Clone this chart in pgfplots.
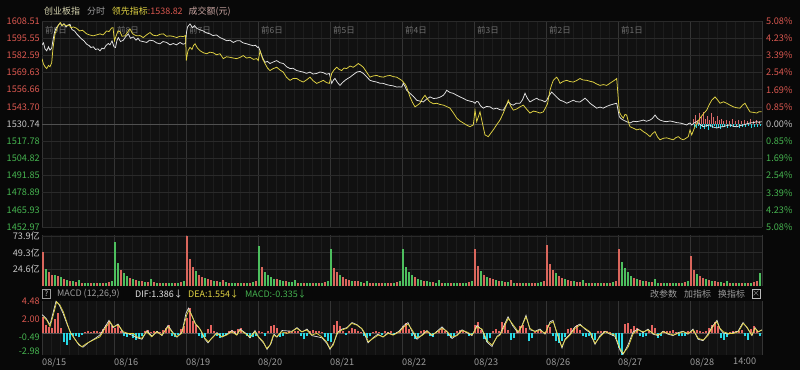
\documentclass[border=0pt]{standalone}
\usepackage{fontspec}
\setmainfont{Noto Sans CJK SC}
\usepackage{pgfplots}
\usepackage{pgfplotstable}
\pgfplotsset{compat=1.18}

\definecolor{bgc}{HTML}{080808}
\definecolor{panelc}{HTML}{111111}
\definecolor{gridday}{HTML}{343434}
\definecolor{gridmin}{HTML}{1D1D1D}
\definecolor{gridh}{HTML}{2A2A2A}
\definecolor{zeroc}{HTML}{505050}
\definecolor{labred}{HTML}{D9574F}
\definecolor{labgreen}{HTML}{45B24F}
\definecolor{labgray}{HTML}{C4C4C4}
\definecolor{txtgray}{HTML}{9C9C9C}
\definecolor{daygray}{HTML}{6E6E6E}
\definecolor{whitec}{HTML}{E4E4E4}
\definecolor{yelc}{HTML}{E2D443}
\definecolor{volred}{HTML}{D9665C}
\definecolor{volgreen}{HTML}{4DBF5E}
\definecolor{histred}{HTML}{E5645E}
\definecolor{ovred}{HTML}{D86A6A}
\definecolor{histcyan}{HTML}{26D9E6}
\definecolor{hdr1}{HTML}{D8D6B0}
\definecolor{hdr3}{HTML}{C8A4A0}

\pgfplotsset{
  panelbase/.style={
    scale only axis, width=720bp, xmin=0, xmax=720, anchor=south west,
    axis line style={draw=none},
    major tick length=0pt, minor tick length=0pt,
    tick style={draw=none},
    ticklabel style={font=\fontsize{9.2}{10}\selectfont, inner sep=1bp},
    yticklabel style={xshift=-1bp},
    xtick={0,72,...,720}, minor x tick num=7,
    xmajorgrids, xminorgrids,
    major x grid style={draw=gridday, line width=0.6bp},
    minor x grid style={draw=gridmin, line width=0.5bp},
    major y grid style={draw=gridh, line width=0.6bp},
    xticklabels={},
    axis background/.style={fill=panelc},
  },
  overlaybase/.style={
    scale only axis, width=720bp, xmin=0, xmax=720, anchor=south west,
    axis line style={draw=none}, major tick length=0pt, minor tick length=0pt,
    tick style={draw=none}, xtick=\empty,
    ticklabel style={font=\fontsize{9.2}{10}\selectfont, inner sep=1bp},
  }
}

\pgfplotstableread[row sep=\\]{
x r g\\
1 50.5 0\\ 4 0 25\\ 7 20 0\\ 10 16 0\\ 13 0 17\\ 16 15 0\\ 19 0 14\\ 22 11 0\\ 25 0 9\\ 28 8 0\\ 31 0 7\\ 34 6 0\\
37 0 9\\ 40 5 0\\ 43 0 5\\ 46 0 4\\ 49 4 0\\ 52 0 4\\ 55 5 0\\ 58 0 4\\ 61 5 0\\ 64 0 5\\ 67 6 0\\ 70 0 7\\
73 0 65.3\\ 76 0 34\\ 79 24 0\\ 82 0 19\\ 85 0 15\\ 88 12 0\\ 91 0 10\\ 94 9 0\\ 97 0 8\\ 100 7 0\\ 103 0 6\\ 106 6 0\\
109 0 10\\ 112 6 0\\ 115 0 5\\ 118 5 0\\ 121 0 4\\ 124 5 0\\ 127 0 4\\ 130 0 5\\ 133 4 0\\ 136 0 5\\ 139 6 0\\ 142 0 8\\
145 73.9 0\\ 148 40 0\\ 151 28 0\\ 154 0 22\\ 157 17 0\\ 160 14 0\\ 163 0 12\\ 166 10 0\\ 169 9 0\\ 172 0 8\\ 175 7 0\\ 178 0 6\\
181 9 0\\ 184 0 6\\ 187 5 0\\ 190 0 5\\ 193 0 5\\ 196 4 0\\ 199 0 5\\ 202 4 0\\ 205 0 5\\ 208 5 0\\ 211 0 6\\ 214 7 0\\
217 0 58.9\\ 220 28 0\\ 223 0 20\\ 226 0 16\\ 229 0 13\\ 232 0 11\\ 235 10 0\\ 238 0 9\\ 241 0 8\\ 244 7 0\\ 247 0 6\\ 250 0 6\\
253 0 9\\ 256 5 0\\ 259 0 5\\ 262 4 0\\ 265 0 5\\ 268 0 4\\ 271 5 0\\ 274 0 4\\ 277 5 0\\ 280 0 5\\ 283 6 0\\ 286 0 7\\
289 0 54.1\\ 292 27 0\\ 295 20 0\\ 298 0 16\\ 301 13 0\\ 304 11 0\\ 307 9 0\\ 310 0 8\\ 313 7 0\\ 316 7 0\\ 319 0 6\\ 322 5 0\\
325 0 8\\ 328 5 0\\ 331 5 0\\ 334 0 4\\ 337 5 0\\ 340 4 0\\ 343 0 5\\ 346 4 0\\ 349 5 0\\ 352 0 5\\ 355 6 0\\ 358 0 8\\
361 0 54.1\\ 364 0 28\\ 367 0 21\\ 370 0 16\\ 373 13 0\\ 376 0 11\\ 379 0 9\\ 382 8 0\\ 385 0 7\\ 388 0 6\\ 391 6 0\\ 394 0 5\\
397 0 9\\ 400 5 0\\ 403 0 5\\ 406 0 4\\ 409 5 0\\ 412 0 4\\ 415 0 5\\ 418 4 0\\ 421 0 5\\ 424 0 5\\ 427 6 0\\ 430 0 7\\
433 54.1 0\\ 436 30 0\\ 439 0 22\\ 442 17 0\\ 445 0 14\\ 448 12 0\\ 451 10 0\\ 454 0 9\\ 457 8 0\\ 460 0 7\\ 463 6 0\\ 466 0 6\\
469 9 0\\ 472 0 5\\ 475 5 0\\ 478 4 0\\ 481 0 5\\ 484 4 0\\ 487 0 5\\ 490 4 0\\ 493 5 0\\ 496 0 5\\ 499 0 6\\ 502 7 0\\
505 60.4 0\\ 508 32 0\\ 511 24 0\\ 514 0 19\\ 517 15 0\\ 520 12 0\\ 523 0 10\\ 526 9 0\\ 529 8 0\\ 532 0 7\\ 535 6 0\\ 538 6 0\\
541 0 9\\ 544 5 0\\ 547 0 5\\ 550 5 0\\ 553 0 4\\ 556 5 0\\ 559 0 4\\ 562 5 0\\ 565 0 4\\ 568 5 0\\ 571 0 6\\ 574 7 0\\
577 54.1 0\\ 580 0 36\\ 583 0 27\\ 586 0 20\\ 589 0 15\\ 592 12 0\\ 595 0 10\\ 598 9 0\\ 601 0 8\\ 604 7 0\\ 607 0 6\\ 610 6 0\\
613 0 10\\ 616 0 5\\ 619 5 0\\ 622 0 4\\ 625 0 5\\ 628 4 0\\ 631 0 5\\ 634 0 4\\ 637 5 0\\ 640 0 5\\ 643 6 0\\ 646 0 7\\
649 44.2 0\\ 652 24 0\\ 655 0 18\\ 658 15 0\\ 661 12 0\\ 664 0 10\\ 667 9 0\\ 670 0 8\\ 673 7 0\\ 676 6 0\\ 679 0 6\\ 682 5 0\\
685 0 8\\ 688 5 0\\ 691 0 5\\ 694 4 0\\ 697 0 5\\ 700 4 0\\ 703 0 5\\ 706 5 0\\ 709 0 5\\ 712 6 0\\ 715 8 0\\ 718 0 19\\
}\voltab

\pgfplotstableread[row sep=\\]{
x h\\
1 2.3\\ 4 1.2\\ 7 0.9\\ 10 0.8\\ 13 2.0\\ 16 2.8\\ 19 0.8\\ 22 -1.2\\ 25 -1.6\\ 28 -0.9\\ 31 -0.4\\ 34 -0.3\\
37 -0.5\\ 40 -0.2\\ 43 0.2\\ 46 0.3\\ 49 0.2\\ 52 0.3\\ 55 0.4\\ 58 0.2\\ 61 0.6\\ 64 1.2\\ 67 1.7\\ 70 1.0\\
73 0.8\\ 76 1.1\\ 79 0.4\\ 82 -0.3\\ 85 -0.5\\ 88 -0.2\\ 91 -0.6\\ 94 -0.9\\ 97 -0.7\\ 100 -0.3\\ 103 0.3\\ 106 0.5\\
109 0.2\\ 112 0.4\\ 115 0.3\\ 118 0.2\\ 121 0.5\\ 124 0.8\\ 127 1.2\\ 130 -0.3\\ 133 -0.5\\ 136 -0.2\\ 139 0.6\\ 142 1.0\\
145 2.2\\ 148 3.5\\ 151 1.7\\ 154 1.2\\ 157 -0.3\\ 160 -0.7\\ 163 -0.5\\ 166 0.6\\ 169 1.2\\ 172 0.3\\ 175 -0.4\\ 178 -0.6\\
181 -0.4\\ 184 -0.2\\ 187 0.3\\ 190 0.5\\ 193 0.3\\ 196 0.6\\ 199 0.7\\ 202 0.2\\ 205 -0.4\\ 208 -0.6\\ 211 -0.5\\ 214 -0.3\\
217 0.3\\ 220 0.2\\ 223 -0.3\\ 226 0.4\\ 229 1.0\\ 232 1.2\\ 235 0.8\\ 238 -0.5\\ 241 -0.3\\ 244 0.2\\ 247 0.3\\ 250 0.2\\
253 0.4\\ 256 0.3\\ 259 -0.4\\ 262 -0.8\\ 265 -0.3\\ 268 0.3\\ 271 0.5\\ 274 0.3\\ 277 0.4\\ 280 0.2\\ 283 -0.5\\ 286 -1.0\\
289 -1.2\\ 292 1.2\\ 295 1.7\\ 298 1.0\\ 301 0.3\\ 304 -0.2\\ 307 0.4\\ 310 0.7\\ 313 0.6\\ 316 0.4\\ 319 0.2\\ 322 -0.4\\
325 -0.6\\ 328 -0.3\\ 331 0.2\\ 334 0.3\\ 337 0.2\\ 340 -0.2\\ 343 0.3\\ 346 0.2\\ 349 0.3\\ 352 -0.2\\ 355 0.2\\ 358 0.3\\
361 1.0\\ 364 1.4\\ 367 0.6\\ 370 -0.4\\ 373 -0.8\\ 376 -0.5\\ 379 0.3\\ 382 0.5\\ 385 0.3\\ 388 -0.3\\ 391 -0.5\\ 394 0.2\\
397 0.4\\ 400 0.6\\ 403 0.3\\ 406 -0.3\\ 409 -0.6\\ 412 -0.4\\ 415 0.3\\ 418 0.5\\ 421 0.3\\ 424 0.2\\ 427 -0.3\\ 430 -0.2\\
433 1.2\\ 436 1.6\\ 439 0.5\\ 442 -0.8\\ 445 -1.2\\ 448 -0.7\\ 451 0.3\\ 454 0.6\\ 457 0.4\\ 460 1.6\\ 463 1.4\\ 466 0.5\\
469 -0.9\\ 472 -0.7\\ 475 0.3\\ 478 1.0\\ 481 1.2\\ 484 0.8\\ 487 -1.1\\ 490 -0.6\\ 493 0.2\\ 496 0.4\\ 499 0.3\\ 502 0.2\\
505 1.2\\ 508 0.9\\ 511 -0.4\\ 514 -1.1\\ 517 -1.3\\ 520 -1.0\\ 523 -0.5\\ 526 0.6\\ 529 0.8\\ 532 0.7\\ 535 1.2\\ 538 0.5\\
541 -0.3\\ 544 -0.5\\ 547 -0.4\\ 550 -0.6\\ 553 -0.9\\ 556 0.3\\ 559 0.4\\ 562 0.3\\ 565 0.4\\ 568 0.2\\ 571 -0.3\\ 574 -0.8\\
577 -2.0\\ 580 -3.0\\ 583 1.3\\ 586 1.5\\ 589 0.6\\ 592 1.0\\ 595 0.8\\ 598 -0.3\\ 601 -0.5\\ 604 -0.3\\ 607 0.4\\ 610 1.2\\
613 0.7\\ 616 -0.7\\ 619 -0.3\\ 622 0.3\\ 625 0.4\\ 628 0.3\\ 631 0.5\\ 634 0.2\\ 637 -0.3\\ 640 -0.4\\ 643 -0.3\\ 646 0.3\\
649 0.2\\ 652 0.3\\ 655 0.5\\ 658 0.3\\ 661 0.2\\ 664 0.4\\ 667 0.8\\ 670 1.2\\ 673 1.6\\ 676 1.0\\ 679 -0.6\\ 682 -0.9\\
685 -0.5\\ 688 0.2\\ 691 0.3\\ 694 0.4\\ 697 0.3\\ 700 0.5\\ 703 -0.4\\ 706 -0.9\\ 709 0.6\\ 712 1.0\\ 715 0.4\\ 718 -0.4\\
}\macdtab

\begin{document}
\begin{tikzpicture}[x=1bp,y=1bp]
\fill[bgc] (0,0) rectangle (800,370);

% ---------- main panel: background, grid, left labels
\begin{axis}[panelbase, at={(42bp,143bp)}, height=206bp,
  ymin=1452.97, ymax=1608.51,
  ytick={1452.97,1465.93,1478.89,1491.85,1504.82,1517.78,1530.74,1543.70,1556.66,1569.63,1582.59,1595.55,1608.51},
  yticklabels={\textcolor{labgreen}{1452.97},\textcolor{labgreen}{1465.93},\textcolor{labgreen}{1478.89},\textcolor{labgreen}{1491.85},\textcolor{labgreen}{1504.82},\textcolor{labgreen}{1517.78},\textcolor{labgray}{1530.74},\textcolor{labred}{1543.70},\textcolor{labred}{1556.66},\textcolor{labred}{1569.63},\textcolor{labred}{1582.59},\textcolor{labred}{1595.55},\textcolor{labred}{1608.51}},
  ymajorgrids]
\addplot[draw=none] coordinates {(0,1530.74)};
\draw[zeroc, line width=0.7bp] (axis cs:0,1530.74) -- (axis cs:720,1530.74);
\end{axis}

% day labels
\begin{scope}[every node/.style={anchor=west, inner sep=0pt, text=daygray, font=\fontsize{8.5}{9}\selectfont}]
\node at (45,340) {前9日};
\node at (117,340) {前8日};
\node at (189,340) {前7日};
\node at (261,340) {前6日};
\node at (333,340) {前5日};
\node at (405,340) {前4日};
\node at (477,340) {前3日};
\node at (549,340) {前2日};
\node at (621,340) {前1日};
\end{scope}

% ---------- today's bars around the zero line (relative to 1530.74)
\begin{axis}[overlaybase, hide axis, at={(42bp,143bp)}, height=206bp, ymin=-77.77, ymax=77.77]
\addplot[ycomb, draw=ovred, line width=0.9bp] coordinates {
(651,4)(653,7)(655,3)(657,8)(659,5)(661,9)(663,4)(665,6)(667,3)(669,8)(671,5)(673,2)(675,6)(677,3)(679,4)(681,2)
(684,3)(687,2)(690,4)(693,2)(696,3)(699,2)(702,3)(705,2)(708,4)(711,2)(714,3)(717,2)};
\addplot[ycomb, draw=histcyan, line width=0.9bp] coordinates {
(652,-2)(654,-3)(656,-1.5)(658,-4)(660,-2.5)(662,-3.5)(664,-2)(666,-4.5)(668,-2)(670,-3)(672,-1.5)(674,-3)(676,-2)(678,-3.5)
(680,-2)(682,-2.5)(685,-3)(688,-2)(691,-2.5)(694,-1.5)(697,-3)(700,-2)(703,-2.5)(706,-1.5)(709,-3)(712,-2)(715,-2.5)(718,-1.5)};
\end{axis}

% ---------- main lines + right labels
\begin{axis}[overlaybase, at={(42bp,143bp)}, height=206bp,
  ymin=1452.97, ymax=1608.51, yticklabel pos=right,
  yticklabel style={anchor=west, xshift=3bp},
  ytick={1452.97,1465.93,1478.89,1491.85,1504.82,1517.78,1530.74,1543.70,1556.66,1569.63,1582.59,1595.55,1608.51},
  yticklabels={\textcolor{labgreen}{5.08\%},\textcolor{labgreen}{4.23\%},\textcolor{labgreen}{3.39\%},\textcolor{labgreen}{2.54\%},\textcolor{labgreen}{1.69\%},\textcolor{labgreen}{0.85\%},\textcolor{labgray}{0.00\%},\textcolor{labred}{0.85\%},\textcolor{labred}{1.69\%},\textcolor{labred}{2.54\%},\textcolor{labred}{3.39\%},\textcolor{labred}{4.23\%},\textcolor{labred}{5.08\%}}]
% white: index
\addplot[whitec, line width=0.75bp] coordinates {
(0,1590.5)(1.5,1592)(3,1587.5)(4.7,1586)(6.5,1589)(8,1586.5)(9.7,1588)(11,1594)(12.5,1600)(14,1603)(16,1605)(18,1607)(20,1605)(22,1606.5)(24,1604)(26,1605.5)(28,1606)(30,1602)(32.5,1601)(35,1598.5)(37,1597)(39.5,1595)(42,1593.5)(44.7,1591)(47,1590)(49,1588.5)(51.3,1589)(53.5,1587)(56,1587.5)(58,1586)(60,1588)(62,1587.5)(64,1590)(66.3,1591.5)(68,1590.5)(70,1593.5)
(72,1589)(73.5,1588.5)(75,1594)(76.3,1596)(78.5,1593)(81.3,1594)(83.5,1596.5)(86.3,1598.8)(88.5,1595.5)(91.3,1596.5)(94,1594)(96,1595.5)(98,1593.5)(101,1593)(104.7,1592.3)(107.5,1594)(111.3,1593.6)(114.5,1592)(118,1591.3)(121,1593)(124.7,1592.3)(128,1590.5)(131.3,1591.5)(134.5,1590.5)(138,1592.3)(141,1591)(143.5,1591.5)
(144.5,1600)(145.5,1604)(148,1606.3)(150.5,1603.5)(152.5,1605)(154.7,1603)(157.5,1602)(161.3,1601)(164.5,1599.5)(168,1598.8)(171,1597.5)(174.5,1598)(178,1596)(181,1595)(184.7,1593.6)(188,1594)(191.3,1592.3)(194.5,1593.5)(198,1593.6)(201,1592)(204.7,1591.3)(208,1590.5)(211.3,1589.8)(213.5,1590.2)(215.5,1588.6)
(216.5,1589)(218,1586.1)(220.5,1581)(223,1577.3)(225.5,1578)(228,1576.4)(231,1577.5)(234.7,1578.6)(238,1577)(241.3,1576.4)(244.5,1574)(248,1572.6)(251,1572.8)(254.7,1571.1)(258,1570.5)(261.3,1569.9)(264.5,1569)(268,1569.9)(271,1568.5)(274.7,1568.9)(278,1570)(281.3,1569.5)(284.5,1568.3)(287.3,1568.9)
(289.7,1561.4)(291.5,1564)(293,1565.1)(295.5,1562)(298,1559.9)(300.5,1562)(303,1563.7)(305.5,1565)(308,1566.1)(311.3,1568)(314.7,1569.9)(318,1570.5)(321.3,1568.9)(324.5,1566.5)(328,1563.7)(331,1563)(334.7,1562.4)(338,1561.5)(341.3,1561.4)(344.5,1560.5)(348,1559.9)(351.3,1559.5)(354.7,1558.6)(357,1558.8)(359.7,1558.6)
(361.3,1561.4)(363,1559)(364.7,1556.2)(366.5,1555)(368,1553.9)(371.5,1551.5)(374.7,1548.7)(378,1548)(381.3,1547.4)(384.5,1549.5)(388,1551.2)(391.5,1550)(394.7,1550.2)(398,1551)(401.3,1552.4)(403,1554)(404.7,1556.2)(408,1554.5)(411.3,1553.9)(414.5,1552.5)(418,1551.2)(421.5,1550)(424.7,1548.7)(428,1548)(431.3,1547.4)
(433,1546.4)(434.7,1547.8)(436.3,1547.4)(438.5,1544.5)(441.3,1542.7)(444.5,1544)(448,1543.7)(451.3,1542)(454.7,1542.7)(458,1541.5)(461.3,1541.2)(463.5,1544)(466.3,1547.4)(469,1545.5)(471.3,1545)(474.5,1546.5)(478,1546.4)(480.5,1549)(483,1553.9)(485.5,1550)(488,1547.4)(491.5,1549)(494.7,1550.2)(497,1549)(499.7,1548.7)(503,1547.4)
(504.7,1548.7)(507,1552)(509.7,1554.9)(511.5,1553.5)(513,1552.4)(515.5,1550.5)(518,1548.7)(521.5,1547.8)(524.7,1546.4)(528,1547.5)(531.3,1548.7)(534.5,1547.5)(538,1547.4)(541,1549)(543,1550.2)(545.5,1548.5)(548,1546.4)(551.5,1544.5)(554.7,1542.7)(558,1543.5)(561.3,1542.7)(564.5,1544)(568,1545)(571.5,1545.8)(574.7,1546.4)
(577.3,1536.2)(579.5,1534.5)(581.3,1533.7)(584.5,1532.5)(588,1531.5)(591.5,1532.8)(594.7,1532.5)(598,1533)(601.3,1533.7)(604.5,1532.8)(608,1533.7)(610.5,1535)(613,1537.5)(615.5,1535)(618,1533.7)(621.5,1532.8)(624.7,1532.5)(628,1533)(631.3,1532.5)(634.5,1531.8)(638,1531.5)(641.5,1530.8)(644.7,1530)(646.5,1531)(648,1531.5)
(649.7,1530)(652,1531.5)(654.7,1532.5)(658,1530.5)(661.3,1528.7)(664.5,1529.5)(668,1530)(671,1528.5)(674.7,1527.7)(678,1528.5)(681.3,1528.7)(684.5,1529.5)(688,1530)(691.3,1529)(694.7,1528.7)(698,1529.5)(701.3,1530)(704.5,1530.8)(708,1531.5)(711.5,1531.8)(714.7,1532.5)(717,1532)(719.7,1532.5)};
% yellow: leading indicator
\addplot[yelc, line width=0.75bp] coordinates {
(0,1580)(1.5,1576)(3,1574)(4.7,1572.6)(6.5,1575)(8,1574)(9.7,1577)(11,1588)(13,1598.8)(15,1603)(17,1606)(18.5,1607.3)(20,1605)(22,1606)(24.7,1604.8)(27,1605.5)(29,1603.5)(31.5,1604)(34.7,1603)(37.5,1601)(40.5,1601.5)(44.7,1598.8)(47.5,1598)(51.3,1597.3)(54.5,1598)(58,1598.8)(61,1598)(64.7,1601)(67,1600.5)(69.7,1603.3)(71,1603.5)
(72.5,1593.6)(74,1597)(76,1601)(78,1600.5)(80,1597)(83,1597.3)(85.5,1600)(88,1602.5)(90.5,1599)(92.5,1598)(94.7,1597.3)(98,1597.5)(101.3,1596)(104.5,1598)(108,1599.8)(111,1597.8)(114.7,1597.3)(118,1598.5)(121.3,1598.8)(124.5,1597)(128,1597.3)(131.5,1596.8)(134.7,1596)(138,1597)(141.3,1596.8)(143.5,1597.5)
(144.3,1578.6)(145.2,1583)(146,1586.1)(148,1588.6)(150,1587)(151.5,1590)(153,1591.3)(155.5,1588)(158,1586.1)(161.5,1584.5)(164.7,1583.8)(168,1585)(171.3,1584.5)(174.5,1583)(178,1583.8)(181.3,1580.1)(184.5,1581.5)(188,1581.1)(191.5,1580.5)(194.7,1580.1)(198,1581)(201.3,1582.4)(204.5,1580.5)(208,1581.1)(211.5,1579.5)(214.7,1580.1)
(216.3,1578.6)(218,1586.1)(220.5,1580)(223,1576.4)(225.5,1573)(228,1571.1)(231,1572.5)(234.7,1573.6)(238,1571.5)(241.3,1569.9)(244.5,1566)(248,1563.7)(251,1565)(254.7,1565.1)(258,1563.5)(261.3,1562.4)(264.5,1564)(268,1566.1)(271,1563.5)(274.7,1561.4)(278,1562.5)(281.3,1563.7)(284.5,1562)(287.3,1561.4)
(289.7,1568.9)(292,1571.5)(294.7,1573.6)(297,1572)(299.7,1571.1)(302,1573)(304.7,1572.6)(308,1574.5)(311.3,1573.6)(314,1575)(316.3,1576.4)(319,1575)(321.3,1573.6)(324.5,1570)(328,1566.1)(331,1567)(334.7,1567.4)(338,1566.5)(341.3,1566.1)(344.5,1567)(348,1567.4)(351.3,1566.5)(354.7,1566.1)(357,1565)(359.7,1563.7)
(361.3,1562.4)(363,1561)(364.7,1558.6)(366.5,1554.5)(368,1551.2)(370.5,1547)(373,1543.7)(375.5,1545)(378,1546.4)(380.5,1550)(383,1552.4)(385.5,1549.5)(388,1547.4)(391.5,1546)(394.7,1546.4)(398,1545.5)(401.3,1545)(404.5,1544)(408,1542.7)(411.5,1539)(414.7,1535.2)(418,1533)(421.3,1531.5)(424.5,1530)(428,1528.7)(431.3,1530)
(433,1541.2)(434.7,1532.5)(436.3,1536)(438,1539.9)(440.5,1531)(443,1522.5)(446.3,1521.2)(449,1524)(451.3,1526.3)(454.5,1530)(458,1533.7)(461.3,1539)(464,1544)(466.3,1548.7)(468.5,1544.5)(471.3,1541.2)(474.5,1542)(478,1543.7)(481.3,1545)(484.5,1542)(488,1539)(491.5,1540.5)(494.7,1539.9)(498,1539)(501.3,1539.9)(504,1543.7)
(505.5,1546)(508,1556.2)(509.5,1560)(511.3,1563.7)(513,1565)(514.7,1566.1)(516.5,1564)(518,1561.4)(521.5,1563)(524.7,1563.7)(528,1562.8)(531.3,1562.4)(534.5,1563.5)(538,1565.1)(541,1564)(544.7,1563.7)(548,1563)(551.3,1562.4)(554.5,1561)(558,1559.9)(561.5,1560.5)(564.7,1559.9)(567,1561)(569.7,1562.4)(572,1563.5)(574.7,1565.1)
(577.3,1539.9)(579.3,1537)(581.3,1535.2)(583,1538)(584.7,1537.5)(586.5,1532)(588,1528.7)(591.5,1527.5)(594.7,1526.3)(598,1527)(601.3,1525)(604.5,1523.5)(608,1521.2)(610.5,1523.5)(613,1525)(615.5,1521)(618,1518.8)(621.5,1520)(624.7,1520.3)(628,1519.5)(631.3,1518.8)(634,1520.5)(636.3,1521.2)(639,1519.5)(641.3,1518.8)(644,1520)(646.3,1521.2)(648,1526.3)
(649.7,1522.5)(651.5,1526)(653,1528.7)(655.5,1532)(658,1535.2)(661.5,1538.5)(664.7,1541.2)(667,1545)(669.7,1548.7)(671.5,1550)(673,1551.2)(675.5,1549)(678,1546.4)(681.5,1547.5)(684.7,1546.4)(688,1545)(691.3,1543.7)(694.5,1543)(698,1542.7)(700.5,1545)(703,1546.4)(705.5,1543)(708,1539.9)(711.5,1539.5)(714.7,1539)(717,1540)(719.7,1539.9)};
\end{axis}

% ---------- volume panel
\begin{axis}[panelbase, at={(42bp,84bp)}, height=51.4bp, ymin=0, ymax=76,
  ytick={24.6,49.3,73.9},
  yticklabels={\textcolor{labgray}{24.6亿},\textcolor{labgray}{49.3亿},\textcolor{labgray}{73.9亿}},
  ymajorgrids]
\addplot[ycomb, draw=volred, line width=1.3bp] table[x=x, y=r] {\voltab};
\addplot[ycomb, draw=volgreen, line width=1.3bp] table[x=x, y=g] {\voltab};
\end{axis}

% ---------- MACD header row
\node[draw=txtgray, line width=0.5bp, inner sep=0pt, minimum width=8bp, minimum height=9bp, text=labgray, font=\fontsize{7.5}{8}\selectfont] at (46.5,76) {?};
\begin{scope}[every node/.style={anchor=west, inner sep=0pt, font=\fontsize{9}{10}\selectfont}]
\node[text=txtgray] at (57,76) {MACD (12,26,9)};
\node[text=whitec] at (135,76) {DIF:1.386↓};
\node[text=yelc] at (188,76) {DEA:1.554↓};
\node[text=labgreen] at (245,76) {MACD:-0.335↓};
\node[text=txtgray] at (650,76) {改参数};
\node[text=txtgray] at (684,76) {加指标};
\node[text=txtgray] at (718,76) {换指标};
\end{scope}
\node[draw=txtgray!70, line width=0.5bp, inner sep=0pt, minimum width=8bp, minimum height=9bp, text=txtgray, font=\fontsize{8}{8}\selectfont] at (756,76) {×};

% ---------- MACD panel
\begin{axis}[panelbase, at={(42bp,15bp)}, height=54bp, ymin=-2.98, ymax=4.48,
  ytick={-2.43,-0.49,2.00,4.48},
  yticklabels={\textcolor{labgreen}{-2.98},\textcolor{labgreen}{-0.49},\textcolor{labred}{2.00},\textcolor{labred}{4.48}},
  xticklabels={08/15,08/16,08/19,08/20,08/21,08/22,08/23,08/26,08/27,08/28,{}},
  xticklabel style={anchor=north west, text=txtgray, inner sep=0pt, yshift=-3bp},
  extra x ticks={691}, extra x tick labels={14:00},
  extra x tick style={grid=none}]
\draw[zeroc, line width=0.6bp] (axis cs:0,0) -- (axis cs:720,0);
\addplot[ycomb, draw=histred, line width=2.3bp, restrict y to domain=0:10] table[x=x, y=h] {\macdtab};
\addplot[ycomb, draw=histcyan, line width=2.3bp, restrict y to domain=-10:0] table[x=x, y=h] {\macdtab};
\addplot[whitec, line width=0.7bp] coordinates {
(0,2.6)(4,2.1)(8,1.2)(11,2.8)(14,4.45)(17,4.0)(21,2.8)(25,1.3)(29,0.0)(33,-0.8)(37,-1.6)(41,-1.9)(47,-1.2)(53,-0.7)(58,-0.2)(63,0.9)(67,1.8)(71,0.8)(76,1.3)(81,0.1)(88,-0.1)(95,-0.6)(100,-0.8)(105,0.4)(110,-0.4)(115,0.3)(120,-0.3)(126,1.1)(131,0.1)(135,-0.5)(140,0.2)(144,2.8)(146.5,3.5)(150,2.4)(154,1.2)(158,0.6)(163,-0.8)(166,-1.3)(170,-0.6)(175,0.1)(180,-0.5)(185,-0.1)(190,0.4)(195,-0.2)(198,0.6)(203,0.1)(208,-0.6)(213,0.4)(217,-0.6)(222,-1.4)(225,-2.2)(229,-1.4)(232,-0.1)(235,-0.5)(240,0.4)(250,0.3)(255,0.8)(260,0.2)(265,0.6)(270,-0.3)(280,-0.6)(285,-1.4)(288,-2.2)(292,-1.2)(296,0.2)(300,0.6)(305,0.8)(310,1.5)(315,1.2)(320,0.6)(323,-0.2)(326,-1.3)(331,-0.6)(336,-0.1)(341,-0.5)(346,0.1)(351,-0.2)(357,0.3)(362,1.1)(366,1.5)(370,0.3)(375,-0.8)(380,-0.2)(385,0.4)(390,-0.3)(395,0.3)(400,0.9)(405,0.2)(410,-0.7)(415,-0.2)(420,0.5)(425,0.1)(430,-0.3)(435,1.1)(440,0.5)(445,-1.2)(450,-1.8)(455,-0.4)(458,-0.1)(463,1.4)(466,2.3)(471,1.0)(476,0.1)(480,1.1)(484,2.5)(488,0.5)(493,0.3)(498,0.6)(503,-0.1)(508,1.6)(511,1.8)(515,0.0)(520,-2.0)(523,-0.8)(528,-0.1)(533,0.9)(538,1.3)(543,0.6)(548,0.1)(553,-1.5)(558,-0.3)(563,0.3)(568,-0.1)(573,-0.4)(578,-2.3)(581,-2.9)(586,-1.6)(591,0.2)(596,0.6)(601,0.1)(606,0.6)(611,-0.1)(616,-0.3)(621,0.3)(626,-0.1)(631,-0.3)(636,0.1)(641,0.3)(646,-0.1)(651,0.6)(656,-0.8)(661,-1.0)(666,-0.1)(670,0.9)(675,1.8)(678,0.6)(681,0.1)(686,-0.1)(691,0.1)(696,0.3)(701,1.5)(705,0.8)(710,-0.3)(713,0.8)(716,0.2)(720,0.5)};
\addplot[yelc, line width=0.7bp] coordinates {
(1.3,2.3)(4.7,1.85)(8,0.93)(11.3,2.54)(14.7,4.38)(18,3.92)(21.3,3.0)(24.7,1.62)(28,0.23)(31.3,-0.46)(34.7,-1.15)(39.7,-1.84)(44.7,-1.37)(51.3,-0.91)(58,-0.46)(63,0.7)(68,1.62)(71.3,0.93)(76.3,1.16)(81.3,0.23)(86.3,0)(91.3,0)(94.7,-0.46)(99.7,-0.68)(104.7,0.23)(109.7,-0.46)(114.7,0.23)(119.7,-0.23)(126.3,0.93)(129.7,0.23)(134.7,-0.46)(139.7,0)(144.7,2.54)(147,3.23)(149.7,2.54)(153,1.39)(156.3,0.93)(159.7,0.23)(163,-0.68)(166.3,-1.15)(169.7,-0.68)(174.7,0)(179.7,-0.46)(184.7,-0.23)(189.7,0.23)(194.7,-0.23)(198,0.46)(203,0)(208,-0.46)(213,0.23)(216.3,-0.46)(221.3,-1.15)(224.7,-2.07)(228,-1.6)(231.3,-0.23)(234.7,-0.46)(239.7,0.23)(244.7,0)(249.7,0.23)(254.7,0.7)(259.7,0.23)(264.7,0.46)(269.7,-0.23)(274.7,0)(279.7,-0.46)(284.7,-1.15)(288,-2.07)(291.3,-1.6)(294.7,0)(299.7,0.46)(304.7,0.7)(309.7,1.39)(314.7,1.16)(319.7,0.7)(323,0)(326.3,-1.15)(331.3,-0.68)(336.3,-0.23)(341.3,-0.46)(346.3,0)(351.3,-0.23)(357.3,0.23)
(362,0.9)(366,1.3)(370,0.5)(375,-0.6)(380,-0.3)(385,0.3)(390,-0.2)(395,0.2)(400,0.7)(405,0.3)(410,-0.5)(415,-0.3)(420,0.4)(425,0.2)(430,-0.2)(435,0.9)(440,0.6)(445,-1.0)(450,-1.6)(455,-0.5)
(458,-0.22)(463,1.16)(466.3,2.08)(471.3,1.16)(476.3,0.23)(479.7,0.93)(484,2.3)(488,0.7)(493,0.23)(498,0.47)(503,0)(508,1.39)(511.3,1.62)(514.7,0.23)(519.7,-1.84)(523,-0.91)(528,-0.22)(533,0.7)(538,1.16)(543,0.7)(548,0.23)(553,-1.37)(558,-0.46)(563,0.23)(568,0)(573,-0.22)(578,-2.07)(581.3,-2.75)(586.3,-1.84)(591.3,0)(596.3,0.47)(601.3,0.23)(606.3,0.47)(611.3,0)(616.3,-0.22)(621.3,0.23)(626.3,0)(631.3,-0.22)(636.3,0)(641.3,0.23)(646.3,0)(651.3,0.47)(656.3,-0.68)(661.3,-0.91)(666.3,-0.22)(669.7,0.7)(674.7,1.62)(678,0.7)(681.3,0.23)(686.3,0)(691.3,0)(696.3,0.23)(701.3,1.39)(704.7,0.93)(709.7,-0.22)(713,0.7)(716.3,0.23)(719.7,0.47)};
\end{axis}

% ---------- header
\node[anchor=west, inner sep=0pt, font=\fontsize{9}{10}\selectfont] at (44,358)
  {\textcolor{hdr1}{创业板指}\hspace{7bp}\textcolor{txtgray}{分时}\hspace{7bp}\textcolor{yelc}{领先指标}\textcolor{labred}{:1538.82}\hspace{6bp}\textcolor{hdr3}{成交额(元)}};

\pgfresetboundingbox
\useasboundingbox (0,0) rectangle (800,370);
\end{tikzpicture}
\end{document}
